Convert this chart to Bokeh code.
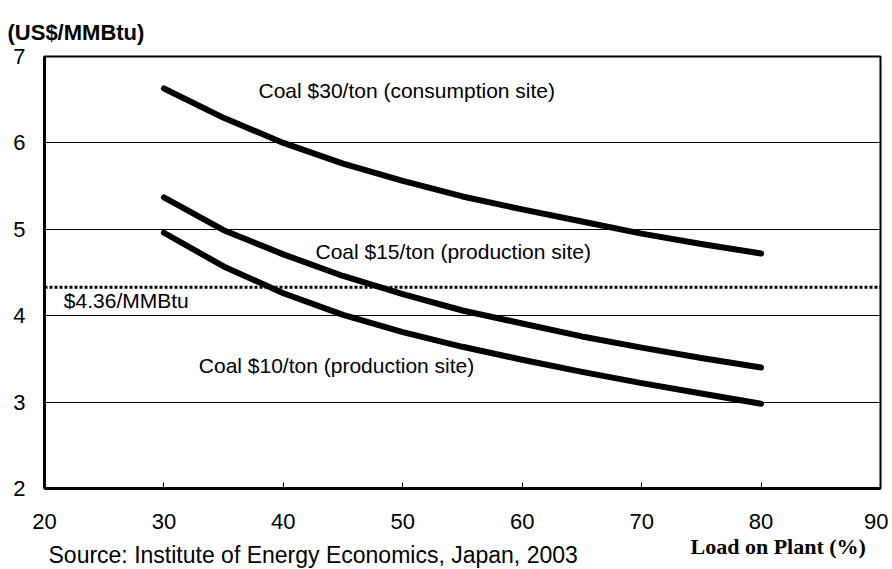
from bokeh.plotting import figure
from bokeh.models import Range1d, FixedTicker, Label, Title
from bokeh.layouts import column
from bokeh.embed import file_html
from bokeh.resources import INLINE

# ---- data ----
load = [30, 35, 40, 45, 50, 55, 60, 65, 70, 75, 80]
coal30 = [6.63, 6.29, 6.00, 5.76, 5.56, 5.38, 5.23, 5.09, 4.95, 4.83, 4.72]
coal15 = [5.37, 4.99, 4.71, 4.46, 4.25, 4.06, 3.91, 3.76, 3.63, 3.51, 3.40]
coal10 = [4.96, 4.57, 4.26, 4.01, 3.81, 3.64, 3.49, 3.35, 3.22, 3.10, 2.98]
threshold = 4.33
x_ticks = [20, 30, 40, 50, 60, 70, 80, 90]
y_ticks = [2, 3, 4, 5, 6, 7]

FONT = "Liberation Sans"
W = 888
FL, FR = 44, 880          # frame left/right in page pixels


def lab(fig, x, y, text, size, bold=False, font=FONT):
    fig.add_layout(Label(x=x, y=y, text=text, text_font=font,
                         text_font_size=size, text_color="black",
                         text_font_style="bold" if bold else "normal",
                         text_baseline="alphabetic", text_align="left"))


# main chart
p = figure(width=W, height=536, output_backend="svg", toolbar_location=None,
           x_range=Range1d(20, 90), y_range=Range1d(2, 7),
           min_border_left=FL, min_border_right=W - FR, min_border_top=56,
           min_border_bottom=48)
p.background_fill_color = "white"
p.border_fill_color = "white"
p.outline_line_color = "black"
p.outline_line_width = 2

p.add_layout(Title(text="(US$/MMBtu)", align="left", offset=-37,
                   text_font=FONT, text_font_size="22px", text_font_style="bold",
                   text_color="black", standoff=24), "above")

p.xgrid.visible = False
p.ygrid.ticker = FixedTicker(ticks=y_ticks)
p.ygrid.grid_line_color = "black"
p.ygrid.grid_line_width = 1

p.xaxis.ticker = FixedTicker(ticks=x_ticks)
p.yaxis.ticker = FixedTicker(ticks=y_ticks)
for ax in (p.xaxis, p.yaxis):
    ax.axis_line_color = "black"
    ax.axis_line_width = 3
    ax.minor_tick_line_color = None
    ax.major_label_text_font = FONT
    ax.major_label_text_font_size = "22px"
    ax.major_label_text_color = "black"
p.xaxis.major_tick_in = 6
p.xaxis.major_tick_out = 0
p.xaxis.major_tick_line_color = "black"
p.xaxis.major_label_standoff = 25
p.yaxis.major_tick_in = 0
p.yaxis.major_tick_out = 0
p.yaxis.major_tick_line_color = None
p.yaxis.major_label_standoff = 19

# threshold dotted line
p.line(x=[x_ticks[0], x_ticks[-1]], y=[threshold, threshold], line_color="black",
       line_width=3, line_dash="3 2")

# curves
for ys in (coal30, coal15, coal10):
    p.line(x=load, y=ys, line_color="black", line_width=6,
           line_cap="round", line_join="round")

lab(p, 37.92, 6.609, "Coal $30/ton (consumption site)", "21px")
lab(p, 42.69, 4.746, "Coal $15/ton (production site)", "21px")
lab(p, 32.92, 3.422, "Coal $10/ton (production site)", "21px")
lab(p, 21.62, 4.178, "$4.36/MMBtu", "21px")

# bottom strip (overlaps the tick-label band, transparent): axis title and source
BT, BH = 510, 58
bot = figure(width=W, height=BH, output_backend="svg", toolbar_location=None,
             x_range=Range1d(FL, FR), y_range=Range1d(BT + BH, BT),
             x_axis_location=None, y_axis_location=None,
             min_border_left=FL, min_border_right=W - FR,
             min_border_top=0, min_border_bottom=0)
bot.grid.visible = False
bot.outline_line_color = None
bot.background_fill_color = None
bot.border_fill_color = None
bot.styles = {"margin-top": f"-{536 - BT}px"}

lab(bot, 690, 545.8, "Load on Plant (%)", "22px", bold=True, font="Liberation Serif")
lab(bot, 48, 554, "Source: Institute of Energy Economics, Japan, 2003", "23px")

layout = column(p, bot, spacing=0)
open("out.html", "w").write(file_html(layout, INLINE))
